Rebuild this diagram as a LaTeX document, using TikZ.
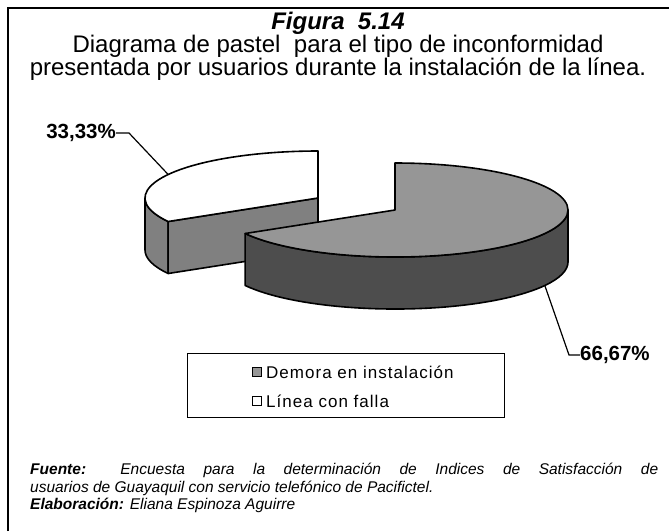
\documentclass[tikz,border=0pt]{standalone}
\usepackage{fontspec}
\setmainfont{Liberation Sans}
\usetikzlibrary{calc}
\definecolor{topgray}{RGB}{150,150,150}
\definecolor{sidedark}{RGB}{77,77,77}
\definecolor{midgray}{RGB}{128,128,128}
\begin{document}
\begin{tikzpicture}[x=1pt,y=-1pt,
  outline/.style={draw=black,line width=1.6pt,line join=round},
  lead/.style={draw=black,line width=1.2pt},
  lbl/.style={font=\bfseries\fontsize{20.5}{22}\selectfont,inner sep=0pt},
  ttl/.style={font=\fontsize{24}{26}\selectfont,inner sep=0pt},
  legsq/.style={draw=black,line width=1pt,minimum size=9pt,inner sep=0pt},
  legtxt/.style={font=\fontsize{17}{19}\selectfont\addfontfeature{LetterSpace=6},inner sep=0pt,anchor=west}]
\useasboundingbox (0,0) rectangle (669,531);
\fill[white] (0,0) rectangle (669,531);
\draw[line width=2pt] (8,531) -- (8,8) -- (669,8);

% title
\node[ttl,font=\bfseries\itshape\fontsize{24}{26}\selectfont] (fig) at (338,23) {Figura\ \ 5.14};
\node[ttl] (t2) at (338,46) {Diagrama de pastel\ \ para el tipo de inconformidad};
\node[ttl] (t3) at (338,69) {presentada por usuarios durante la instalación de la línea.};

% pie geometry
\coordinate (cw) at (318,198);
\coordinate (cm) at (395,210);
\coordinate (w150) at ($(cw)+(150:173 and 47)$);
\coordinate (m0) at ($(cm)+(173,0)$);
\coordinate (mtop) at ($(cm)+(0,-47)$);

% white slice (exploded)
\path[outline,fill=midgray] (w150) arc[start angle=150,end angle=180,x radius=173,y radius=47]
  -- ++(0,52) arc[start angle=180,end angle=150,x radius=173,y radius=47] -- cycle;
\path[outline,fill=midgray] (cw) -- (w150) -- ++(0,52) -- ($(cw)+(0,52)$) -- cycle;
\path[outline,fill=white] (cw) -- (w150) arc[start angle=150,end angle=270,x radius=173,y radius=47] -- cycle;

% main slice
\path[outline,fill=sidedark] (m0) arc[start angle=0,end angle=150,x radius=173,y radius=47]
  -- ++(0,52) arc[start angle=150,end angle=0,x radius=173,y radius=47] -- cycle;
\path[outline,fill=topgray] (cm) -- (mtop) arc[start angle=-90,end angle=150,x radius=173,y radius=47] -- cycle;

% labels
\coordinate (wlead) at ($(cw)+(210:173 and 47)$);
\coordinate (mlead) at ($(cm)+(30:173 and 47)+(0,52)$);
\node[lbl,anchor=east] (l33) at (116,133) {33,33\%};
\draw[lead] (l33.east) -- ++(13,0) -- (wlead);
\node[lbl,anchor=west] (l66) at (580,355) {66,67\%};
\draw[lead] (mlead) -- ($(l66.west)+(-11,0)$) -- (l66.west);

% legend
\node[draw=black,line width=1.2pt,minimum width=317pt,minimum height=64pt,anchor=north west,inner sep=0pt] (leg) at (187,353) {};
\node[legsq,fill=topgray] (s1) at (257,372) {};
\node[legtxt] (lt1) at (266,372) {Demora en instalación};
\node[legsq,fill=white] (s2) at (257,401) {};
\node[legtxt] (lt2) at (266,401) {Línea con falla};

% footer
\node[anchor=north west,text width=628pt,align=justify,inner sep=0pt,
  font=\itshape\fontsize{15.5}{17.5}\selectfont] (foot) at (30,463)
  {\textbf{Fuente:} Encuesta para la determinación de Indices de Satisfacción de\linebreak
   usuarios de Guayaquil con servicio telefónico de Pacifictel.\\
   \textbf{Elaboración:} Eliana Espinoza Aguirre};
\end{tikzpicture}
\end{document}
